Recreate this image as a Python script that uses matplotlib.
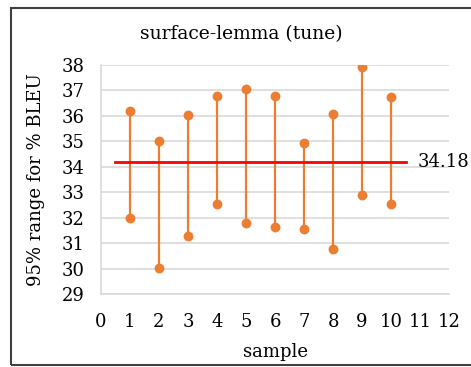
import numpy as np
import matplotlib.pyplot as plt

# 95% BLEU ranges per sample
samples = [1, 2, 3, 4, 5, 6, 7, 8, 9, 10]
upper = [36.2, 35.0, 36.05, 36.78, 37.05, 36.78, 34.95, 36.08, 37.92, 36.76]
lower = [32.0, 30.03, 31.28, 32.55, 31.8, 31.65, 31.55, 30.75, 32.9, 32.55]
mean_bleu = 34.18
mean_span = [0.5, 10.5]

plt.rcParams['font.family'] = ['DejaVu Serif']
orange = '#ED7D31'

fig = plt.figure(figsize=(4.71, 3.67), dpi=100)
ax = fig.add_axes([0.2144, 0.1989, 0.739, 0.624])

for s, lo, hi in zip(samples, lower, upper):
    ax.plot([s, s], [lo, hi], color=orange, lw=1.6, zorder=2)
ax.scatter(samples, upper, s=50, color=orange, zorder=3, linewidths=0)
ax.scatter(samples, lower, s=50, color=orange, zorder=3, linewidths=0)

ax.plot(mean_span, [mean_bleu, mean_bleu], color='#FF0000', lw=2, zorder=4)
ax.text(mean_span[1] + 0.4, mean_bleu, '%.2f' % mean_bleu, va='center',
        ha='left', fontsize=13, clip_on=False)

ax.set_xlim(0, 12)
ax.set_ylim(29, 38)
ax.set_xticks(range(0, 13))
ax.set_yticks(range(29, 39))
ax.tick_params(length=0, labelsize=13, pad=12)
ax.tick_params(axis='x', pad=14)
ax.grid(axis='y', color='#D9D9D9', lw=1.2)
ax.set_axisbelow(True)
for side in ['top', 'right']:
    ax.spines[side].set_visible(False)
ax.spines['left'].set_color('#D9D9D9')
ax.spines['bottom'].set_color('#D9D9D9')
ax.spines['left'].set_linewidth(1.2)
ax.spines['bottom'].set_linewidth(1.2)

ax.set_xlabel('sample', fontsize=13, labelpad=8)
ax.set_ylabel('95% range for % BLEU', fontsize=13, labelpad=12)
fig.text(0.513, 0.908, 'surface-lemma (tune)', ha='center', va='center', fontsize=13.5)

# outer frame
fig.patches.append(plt.Rectangle((11 / 471, 2 / 367), 1.0, 357 / 367,
                                 transform=fig.transFigure, fill=False,
                                 edgecolor='#404040', lw=1.5))

fig.savefig('out.png', dpi=100)
